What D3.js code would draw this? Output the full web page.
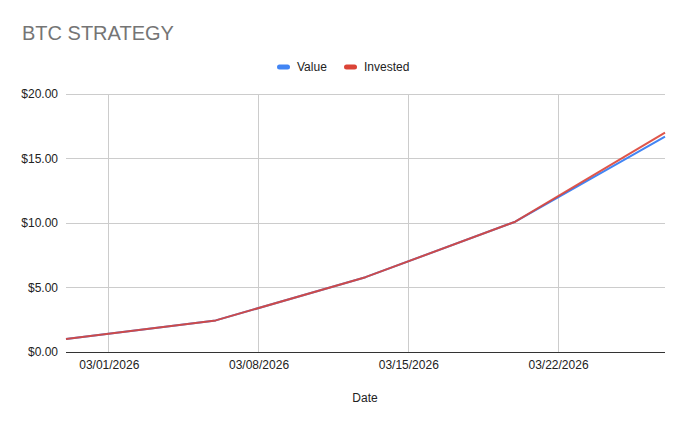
<!DOCTYPE html>
<html><head><meta charset="utf-8">
<script src="https://cdn.jsdelivr.net/npm/d3@7"></script>
<style>body{margin:0;background:#fff;} svg{display:block;}</style>
</head><body>
<svg id="c" width="688" height="426"></svg>
<script>
const dates = ["2026-02-27","2026-03-06","2026-03-13","2026-03-20","2026-03-27"];
const valueSeries = [1.0, 2.45, 5.8, 10.1, 16.7];
const investedSeries = [1.0, 2.45, 5.8, 10.1, 17.0];
const xTickDates = ["2026-03-01","2026-03-08","2026-03-15","2026-03-22"];
const yTicks = [0, 5, 10, 15, 20];
const seriesNames = ["Value", "Invested"];
const colors = ["#4285F4", "#DB4437"];

(function(){
const svg = d3.select("#c");
const parse = d3.utcParse("%Y-%m-%d");
const fmtDate = d3.utcFormat("%m/%d/%Y");
const mLeft = 66, mRight = 665, mTop = 94, mBottom = 352;

const x = d3.scaleUtc().domain([parse(dates[0]), parse(dates[dates.length-1])]).range([mLeft, mRight]);
const y = d3.scaleLinear().domain([0, 20]).range([mBottom, mTop]);
const font = "'Liberation Sans', Arial, sans-serif";

svg.append("text").attr("x", 22).attr("y", 40).text("BTC STRATEGY")
  .attr("font-family", font).attr("font-size", 20).attr("fill", "#757575");

const legend = svg.append("g");
const legendItems = [{n: seriesNames[0], c: colors[0], x: 277}, {n: seriesNames[1], c: colors[1], x: 344}];
legendItems.forEach(d => {
  legend.append("rect").attr("x", d.x).attr("y", 64.5).attr("width", 13).attr("height", 5).attr("rx", 2.5).attr("fill", d.c);
  legend.append("text").attr("x", d.x + 20).attr("y", 71).text(d.n)
    .attr("font-family", font).attr("font-size", 12).attr("fill", "#222");
});

svg.append("g").selectAll("line").data(yTicks.filter(v => v > 0)).join("line")
  .attr("x1", mLeft).attr("x2", mRight).attr("y1", d => y(d)).attr("y2", d => y(d))
  .attr("stroke", "#cccccc").attr("stroke-width", 1).attr("shape-rendering", "crispEdges");
svg.append("g").selectAll("line").data(xTickDates.map(parse)).join("line")
  .attr("x1", d => x(d)).attr("x2", d => x(d)).attr("y1", mTop).attr("y2", mBottom)
  .attr("stroke", "#cccccc").attr("stroke-width", 1).attr("shape-rendering", "crispEdges");

const yAxis = svg.append("g").attr("transform", `translate(${mLeft},0)`)
  .call(d3.axisLeft(y).tickValues(yTicks).tickSize(0).tickPadding(8).tickFormat(d => "$" + d3.format(".2f")(d)));
yAxis.select(".domain").remove();
yAxis.selectAll("text").attr("font-family", font).attr("font-size", 12).attr("fill", "#222");

const xAxis = svg.append("g").attr("transform", `translate(0,${mBottom})`)
  .call(d3.axisBottom(x).tickValues(xTickDates.map(parse)).tickSize(0).tickPadding(8).tickFormat(fmtDate));
xAxis.select(".domain").remove();
xAxis.selectAll("text").attr("font-family", font).attr("font-size", 12).attr("fill", "#222");

svg.append("line").attr("x1", mLeft).attr("x2", mRight).attr("y1", y(0)).attr("y2", y(0))
  .attr("stroke", "#333").attr("stroke-width", 1).attr("shape-rendering", "crispEdges");

svg.append("text").attr("x", 365).attr("y", 402).attr("text-anchor", "middle").text("Date")
  .attr("font-family", font).attr("font-size", 12).attr("fill", "#222");

const line = d3.line().x(d => x(parse(d.d))).y(d => y(d.v));
[valueSeries, investedSeries].forEach((s, i) => {
  svg.append("path").datum(dates.map((d, j) => ({d, v: s[j]})))
    .attr("d", line).attr("fill", "none").attr("stroke", colors[i]).attr("stroke-width", 2)
    .attr("stroke-linejoin", "round").attr("opacity", i === 1 ? 0.9 : 1);
});
})();
</script>
</body></html>
